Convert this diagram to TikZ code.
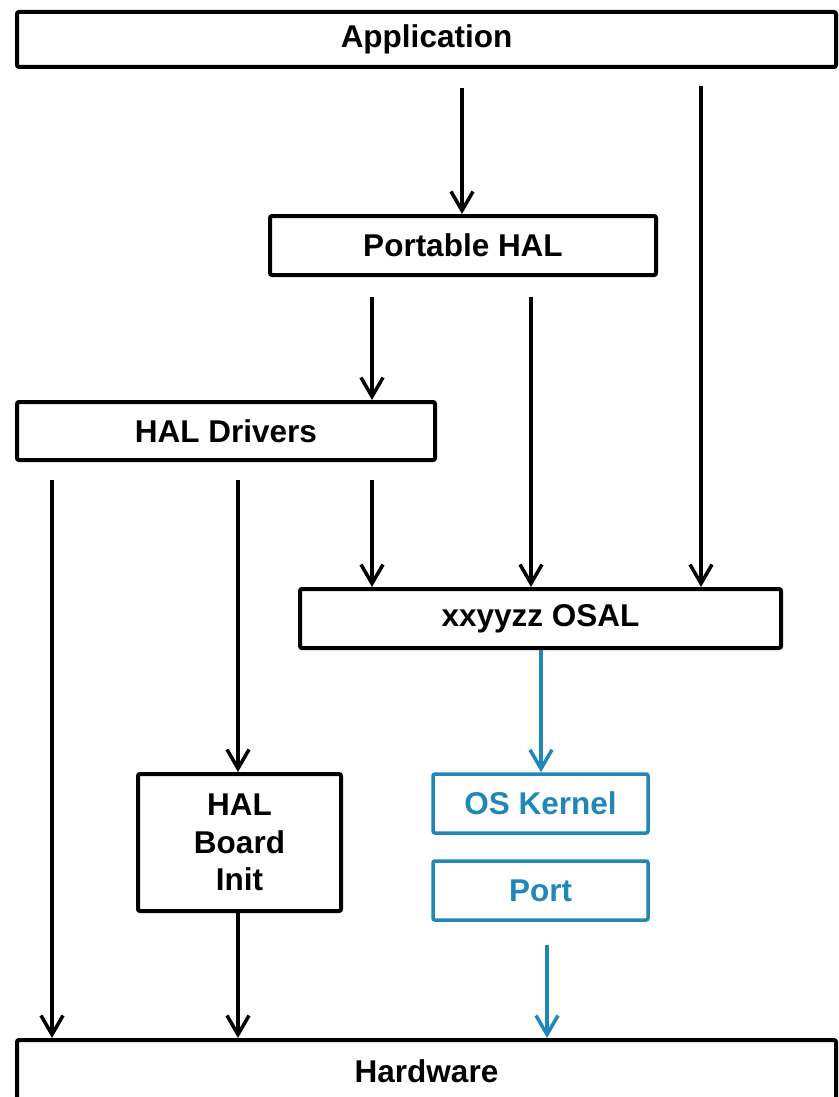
\documentclass[tikz,border=0pt]{standalone}
\usepackage{fontspec}
\setmainfont{Liberation Sans}
\usetikzlibrary{arrows.meta}
\definecolor{osblue}{RGB}{33,134,184}
\begin{document}
\begin{tikzpicture}[x=1pt,y=-1pt,
  box/.style={draw, line width=4pt, rounded corners=2pt, inner sep=0pt,
    font=\fontsize{31.5}{37.5}\selectfont\bfseries, align=center},
  osbox/.style={box, draw=osblue, text=osblue, line width=3.5pt},
  arr/.style={line width=3.5pt, -{Straight Barb[length=19pt,width=22pt]}},
  osarr/.style={arr, draw=osblue}]
\useasboundingbox (0,0) rectangle (838,1097);

% layers
\node[box, minimum width=819pt, minimum height=55pt] (app)   at (426.5,39.5)  {Application};
\node[box, minimum width=386pt, minimum height=59pt] (ph)    at (463,245.5)   {Portable HAL};
\node[box, minimum width=418pt, minimum height=58pt] (drv)   at (226,431)     {HAL Drivers};
\node[box, minimum width=481pt, minimum height=59pt] (osal)  at (540.5,618.5) {xxyyzz OSAL};
\node[box, minimum width=203pt, minimum height=137pt] (board) at (239.5,842.5) {HAL\\Board\\Init};
\node[osbox, minimum width=215pt, minimum height=59pt] (kern) at (540.5,803.5) {OS Kernel};
\node[osbox, minimum width=215pt, minimum height=59pt] (port) at (540.5,890.5) {Port};
\node[box, minimum width=819pt, minimum height=62pt] (hw)    at (426.5,1071)  {Hardware};

% calls between layers
\draw[arr, shorten <=19pt] (app.south -| 462,0) -- (ph.north -| 462,0);
\draw[arr, shorten <=17pt] (app.south -| 701,0) -- (osal.north -| 701,0);
\draw[arr, shorten <=20pt] (ph.south -| 372,0) -- (drv.north -| 372,0);
\draw[arr, shorten <=20pt] (ph.south -| 531,0) -- (osal.north -| 531,0);
\draw[arr, shorten <=18pt] (drv.south -| 52,0) -- (hw.north -| 52,0);
\draw[arr, shorten <=18pt] (drv.south -| 238,0) -- (board.north -| 238,0);
\draw[arr, shorten <=18pt] (drv.south -| 372,0) -- (osal.north -| 372,0);
\draw[arr] (board.south -| 238,0) -- (hw.north -| 238,0);
\draw[osarr] (osal.south -| 541,0) -- (kern.north -| 541,0);
\draw[osarr, shorten <=23pt] (port.south -| 547,0) -- (hw.north -| 547,0);
\end{tikzpicture}
\end{document}
